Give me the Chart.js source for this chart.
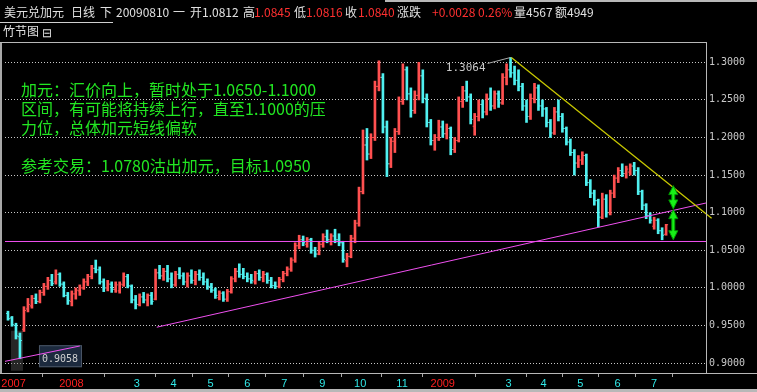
<!DOCTYPE html>
<html>
<head>
<meta charset="utf-8">
<script src="https://cdn.jsdelivr.net/npm/chart.js@4.4.1/dist/chart.umd.min.js"></script>
<style>
html, body { margin: 0; padding: 0; background: #000; overflow: hidden; }
canvas { display: block; }
</style>
</head>
<body>
<canvas id="chart" width="757" height="392"></canvas>
<script>
// one bar = about two trading days
const opens = [
 .966,.960,.950,.935,.945,.972,.976,.986,.982,.994,1.002,1.010,1.008,1.018,1.005,.990,.982,.992,.996,1.000,
 1.008,1.015,1.026,1.024,1.008,1.000,1.005,.998,.996,1.004,1.015,1.002,.984,.978,.988,.984,.990,.985,1.020,1.016,
 1.022,1.012,1.004,1.018,1.016,1.008,1.016,1.010,1.018,1.014,1.008,1.002,.997,.987,.993,.985,.995,1.012,1.022,1.018,
 1.015,1.012,1.008,1.019,1.014,1.018,1.010,1.003,1.002,1.011,1.019,1.025,1.037,1.056,1.064,1.058,1.064,1.050,1.045,1.058,
 1.068,1.064,1.069,1.064,1.060,1.036,1.042,1.066,1.086,1.128,1.190,1.178,1.200,1.268,1.280,1.214,1.165,1.195,1.208,1.248,
 1.290,1.258,1.236,1.256,1.282,1.252,1.220,1.196,1.200,1.214,1.205,1.212,1.184,1.196,1.248,1.262,1.254,1.215,1.228,1.244,
 1.234,1.252,1.242,1.258,1.246,1.280,1.290,1.286,1.276,1.268,1.242,1.228,1.252,1.266,1.242,1.238,1.220,1.206,1.234,1.228,
 1.212,1.194,1.180,1.166,1.170,1.176,1.140,1.126,1.116,1.094,1.118,1.100,1.126,1.146,1.156,1.152,1.154,1.162,1.156,1.128,
 1.110,1.096,1.082,1.090,1.076,1.0712
];
const highs = [
 .969,.962,.953,.940,.975,.986,.990,.992,.997,1.006,1.014,1.018,1.024,1.020,1.008,.994,.996,1.000,1.004,1.012,
 1.018,1.030,1.037,1.028,1.012,1.010,1.008,1.008,1.008,1.020,1.018,1.004,.990,.992,.994,.992,.994,1.025,1.030,1.026,
 1.030,1.020,1.022,1.027,1.020,1.020,1.024,1.022,1.024,1.020,1.012,1.006,1.000,.996,.995,.998,1.015,1.026,1.032,1.026,
 1.020,1.018,1.022,1.024,1.022,1.020,1.014,1.008,1.014,1.022,1.028,1.040,1.060,1.070,1.069,1.067,1.066,1.054,1.062,1.072,
 1.077,1.072,1.078,1.072,1.062,1.046,1.070,1.090,1.134,1.210,1.212,1.205,1.275,1.302,1.285,1.222,1.200,1.212,1.254,1.298,
 1.294,1.266,1.262,1.300,1.290,1.258,1.224,1.204,1.223,1.222,1.218,1.214,1.200,1.254,1.268,1.275,1.258,1.232,1.250,1.250,
 1.258,1.266,1.262,1.262,1.285,1.298,1.3064,1.295,1.290,1.272,1.250,1.258,1.272,1.270,1.250,1.240,1.224,1.240,1.250,1.232,
 1.214,1.198,1.184,1.176,1.181,1.178,1.144,1.130,1.118,1.126,1.124,1.130,1.150,1.160,1.165,1.162,1.165,1.167,1.160,1.130,
 1.112,1.100,1.094,1.092,1.080,1.0845
];
const lows = [
 .957,.949,.932,.9058,.942,.968,.973,.979,.980,.990,.998,1.003,1.005,1.002,.988,.978,.976,.985,.990,.998,
 1.003,1.012,1.020,1.005,.995,.996,.994,.994,.993,1.002,1.000,.980,.972,.976,.980,.976,.978,.984,1.012,1.010,
 1.008,1.000,1.002,1.012,1.004,1.001,1.006,1.004,1.010,1.004,.998,.994,.986,.984,.982,.982,.993,1.008,1.014,1.012,
 1.008,1.006,1.005,1.010,1.008,1.006,1.000,.999,1.000,1.008,1.016,1.022,1.034,1.052,1.056,1.054,1.046,1.041,1.044,1.054,
 1.060,1.057,1.060,1.056,1.034,1.028,1.040,1.060,1.082,1.125,1.170,1.172,1.196,1.262,1.206,1.148,1.160,1.180,1.204,1.244,
 1.250,1.227,1.232,1.250,1.246,1.214,1.190,1.183,1.196,1.200,1.198,1.177,1.180,1.194,1.240,1.248,1.218,1.203,1.222,1.226,
 1.230,1.236,1.238,1.240,1.244,1.270,1.280,1.270,1.262,1.236,1.220,1.224,1.246,1.236,1.228,1.214,1.200,1.204,1.222,1.207,
 1.190,1.176,1.150,1.160,1.164,1.136,1.120,1.110,1.081,1.092,1.094,1.097,1.120,1.140,1.148,1.146,1.150,1.150,1.124,1.104,
 1.092,1.086,1.078,1.072,1.064,1.070
];
const closes = [
 .959,.951,.936,.930,.970,.978,.986,.982,.994,1.002,1.010,1.006,1.018,1.005,.990,.983,.992,.997,1.000,1.008,
 1.015,1.026,1.024,1.008,1.000,1.005,.998,1.004,1.005,1.015,1.003,.984,.978,.988,.984,.990,.982,1.020,1.016,1.022,
 1.012,1.004,1.018,1.016,1.008,1.016,1.010,1.018,1.014,1.008,1.002,.997,.990,.993,.985,.995,1.012,1.022,1.018,1.015,
 1.012,1.010,1.019,1.014,1.018,1.010,1.003,1.002,1.011,1.019,1.025,1.037,1.056,1.064,1.060,1.064,1.050,1.045,1.058,1.068,
 1.064,1.069,1.064,1.060,1.038,1.042,1.066,1.086,1.128,1.190,1.178,1.200,1.268,1.280,1.214,1.165,1.195,1.208,1.248,1.290,
 1.258,1.236,1.256,1.282,1.252,1.220,1.196,1.200,1.214,1.205,1.212,1.184,1.196,1.248,1.262,1.254,1.224,1.228,1.244,1.234,
 1.252,1.242,1.258,1.246,1.280,1.290,1.286,1.276,1.268,1.242,1.228,1.252,1.266,1.242,1.238,1.220,1.206,1.234,1.228,1.212,
 1.194,1.180,1.166,1.170,1.176,1.140,1.126,1.116,1.094,1.118,1.100,1.126,1.146,1.156,1.152,1.158,1.162,1.156,1.128,1.110,
 1.096,1.090,1.090,1.076,1.070,1.084
];

// x axis: bar index where each month label sits
const xTickPos = [1.4, 15.9, 32.3, 41.5, 50.8, 60.0, 69.3, 78.8, 88.3, 98.8, 109.0, 125.5, 134.3, 143.5, 152.8, 162.0];
const xTickLabels = ['2007', '2008', '3', '4', '5', '6', '7', '9', '10', '11', '2009', '3', '4', '5', '6', '7'];
const yTicks = [0.90, 0.95, 1.00, 1.05, 1.10, 1.15, 1.20, 1.25, 1.30];

// drawn lines, as [bar index, price]
const resistLine = [[126.2, 1.3064], [176.4, 1.0926]];
const supportLine = [[37.3, 0.9477], [175.0, 1.1129]];
const lowLine = [[-0.75, 0.9023], [18.0, 0.9227]];
const flatLine = [[-0.75, 1.0617], [175.0, 1.0617]];
const arrowIdx = 166.8;
const arrowTops = [1.136, 1.104];
const arrowBottoms = [1.105, 1.064];

const notes = [
    '加元：汇价向上，暂时处于1.0650-1.1000',
    '区间，有可能将持续上行，直至1.1000的压',
    '力位，总体加元短线偏软',
    '',
    '参考交易：1.0780沽出加元，目标1.0950'
];

const RED = '#ff5050';
const CYAN = '#50f0f0';
const colors = opens.map((o, i) => closes[i] >= o ? RED : CYAN);
const toXY = arr => arr.map(p => ({ x: p[0], y: p[1] }));

function lineSet(pts, color, width, clipRight) {
    return { type: 'line', data: toXY(pts), borderColor: color, borderWidth: width, pointRadius: 0, order: 0,
             clip: { left: 0, top: 0, bottom: 0, right: clipRight || 0 } };
}

function drawArrow(ctx, x, yTop, yBot) {
    const hw = 4.5, hh = 9, sw = 1.5;
    ctx.beginPath();
    ctx.moveTo(x, yTop);
    ctx.lineTo(x + hw, yTop + hh);
    ctx.lineTo(x + sw, yTop + hh);
    ctx.lineTo(x + sw, yBot - hh);
    ctx.lineTo(x + hw, yBot - hh);
    ctx.lineTo(x, yBot);
    ctx.lineTo(x - hw, yBot - hh);
    ctx.lineTo(x - sw, yBot - hh);
    ctx.lineTo(x - sw, yTop + hh);
    ctx.lineTo(x - hw, yTop + hh);
    ctx.closePath();
    ctx.fillStyle = '#18f018';
    ctx.fill();
    ctx.strokeStyle = '#009a00';
    ctx.lineWidth = 1;
    ctx.stroke();
}

const decor = {
    id: 'decor',
    beforeDraw(chart) {
        const ctx = chart.ctx;
        ctx.save();
        ctx.fillStyle = '#000';
        ctx.fillRect(0, 0, chart.width, chart.height);
        ctx.restore();
    },
    beforeDatasetsDraw(chart) {
        // low label box
        const ctx = chart.ctx, xs = chart.scales.x, ys = chart.scales.y;
        const lo = Math.min(...lows), li = lows.indexOf(lo);
        const px = xs.getPixelForValue(li), py = ys.getPixelForValue(lo);
        ctx.save();
        ctx.fillStyle = 'rgba(110,110,110,0.35)';
        ctx.fillRect(px - 9, py - 28, 12, 40);
        ctx.fillStyle = '#1c2a3e';
        ctx.fillRect(px + 19, py - 13.5, 43, 22);
        ctx.strokeStyle = '#4a5666';
        ctx.strokeRect(px + 19.5, py - 13, 42, 21);
        ctx.fillStyle = '#d0d0d0';
        ctx.font = '10px "DejaVu Sans Mono"';
        ctx.textBaseline = 'middle';
        ctx.fillText(lo.toFixed(4), px + 22, py + 0.5);
        ctx.restore();
    },
    afterDatasetsDraw(chart) {
        const ctx = chart.ctx, xs = chart.scales.x, ys = chart.scales.y;
        ctx.save();
        // peak label
        const hi = Math.max(...highs), hiI = highs.indexOf(hi);
        const hx = xs.getPixelForValue(hiI), hy = ys.getPixelForValue(hi);
        ctx.strokeStyle = '#a8a8a8';
        ctx.lineWidth = 1;
        ctx.beginPath();
        ctx.moveTo(hx - 23, hy + 6);
        ctx.lineTo(hx, hy);
        ctx.stroke();
        ctx.fillStyle = '#c8c8c8';
        ctx.font = '11px "DejaVu Sans Mono"';
        ctx.textAlign = 'right';
        ctx.textBaseline = 'middle';
        ctx.fillText(hi.toFixed(4), hx - 25, hy + 11);
        // green arrows
        const ax = xs.getPixelForValue(arrowIdx);
        arrowTops.forEach((t, k) => drawArrow(ctx, ax, ys.getPixelForValue(t), ys.getPixelForValue(arrowBottoms[k])));
        ctx.restore();
    },
    afterDraw(chart) {
        const ctx = chart.ctx, a = chart.chartArea;
        ctx.save();
        // frame
        ctx.fillStyle = '#a8a8a8';
        ctx.fillRect(0, a.top, 2, a.bottom - a.top);
        ctx.fillStyle = '#b8b8b8';
        ctx.fillRect(0, a.top, a.right, 1);
        ctx.fillRect(a.right, a.top, 1, a.bottom - a.top + 1);
        ctx.fillRect(0, a.bottom, chart.width, 1);
        ctx.fillRect(0, 389, chart.width, 3);
        ctx.fillRect(385, 0, chart.width - 385, 2);
        ctx.fillStyle = '#d0d0d0';
        ctx.fillRect(0, 22, 113, 1);

        // title line
        ctx.textBaseline = 'middle';
        ctx.font = '12px "Noto Sans CJK SC"';
        const W = '#e0e0e0', R = '#ff3030';
        const title = [
            ['美元兑加元', 4, W], ['日线', 71, W], ['下', 100, W], ['20090810', 116, W], ['一', 173, W],
            ['开1.0812', 190, W], ['高', 243, W], ['1.0845', 254, R], ['低', 294, W], ['1.0816', 306, R],
            ['收', 345, W], ['1.0840', 358, R], ['涨跌', 397, W], ['+0.0028', 432, R], ['0.26%', 478, R],
            ['量4567', 514, W], ['额4949', 555, W]
        ];
        title.forEach(t => { ctx.fillStyle = t[2]; ctx.fillText(t[0], t[1], 12); });
        ctx.fillStyle = W;
        ctx.fillText('竹节图', 3, 31);
        ctx.fillText('⊟', 42, 32);

        // comment text
        ctx.fillStyle = '#22e622';
        ctx.font = '16px "Noto Sans CJK SC"';
        notes.forEach((s, k) => ctx.fillText(s, 21, 90 + 19 * k));
        ctx.restore();
    }
};

new Chart(document.getElementById('chart'), {
    type: 'bar',
    data: {
        datasets: [
            lineSet(resistLine, '#c8c800', 1.3, 6),
            lineSet(supportLine, '#f050f0', 1),
            lineSet(lowLine, '#f050f0', 1),
            lineSet(flatLine, '#f050f0', 1),
            {
                type: 'line', data: opens.map((v, i) => ({ x: i, y: v })), showLine: false,
                pointStyle: 'dash', pointRotation: 180, pointRadius: 2, pointBorderWidth: 1,
                pointBorderColor: colors, pointBackgroundColor: colors, order: 1
            },
            {
                type: 'line', data: closes.map((v, i) => ({ x: i, y: v })), showLine: false,
                pointStyle: 'dash', pointRotation: 0, pointRadius: 2, pointBorderWidth: 1,
                pointBorderColor: colors, pointBackgroundColor: colors, order: 1
            },
            {
                type: 'bar', data: lows.map((v, i) => ({ x: i, y: [v, highs[i]] })),
                backgroundColor: colors, borderWidth: 0, barThickness: 2, order: 2
            }
        ]
    },
    options: {
        responsive: false,
        animation: false,
        devicePixelRatio: 1,
        events: [],
        layout: { padding: { left: 3, top: 42, right: 0, bottom: 0 } },
        plugins: { legend: { display: false }, tooltip: { enabled: false } },
        scales: {
            x: {
                type: 'linear', position: 'bottom', min: -0.75, max: 175.0, offset: false,
                afterBuildTicks: s => { s.ticks = xTickPos.map(v => ({ value: v })); },
                afterFit: s => { s.height = 19; },
                grid: { display: true, drawOnChartArea: false, drawTicks: true, tickLength: 4, color: '#a8a8a8' },
                border: { display: false },
                ticks: {
                    autoSkip: false, maxRotation: 0, padding: 0,
                    font: { family: 'Liberation Sans', size: 11 },
                    color: c => /^20/.test(xTickLabels[c.index]) ? '#ff2020' : '#30e8e8',
                    callback: (v, i) => xTickLabels[i]
                }
            },
            y: {
                type: 'linear', position: 'right', min: 0.8868, max: 1.3270, beginAtZero: false,
                afterBuildTicks: s => { s.ticks = yTicks.map(v => ({ value: v })); },
                afterFit: s => { s.width = 51; },
                grid: { color: '#c8c8c8', lineWidth: 1, drawTicks: false },
                border: { display: false, dash: [1, 2] },
                ticks: {
                    padding: 3, color: '#c8c8c8',
                    font: { family: 'DejaVu Sans Mono', size: 10 },
                    callback: v => v.toFixed(4)
                }
            }
        }
    },
    plugins: [decor]
});
</script>
</body>
</html>
